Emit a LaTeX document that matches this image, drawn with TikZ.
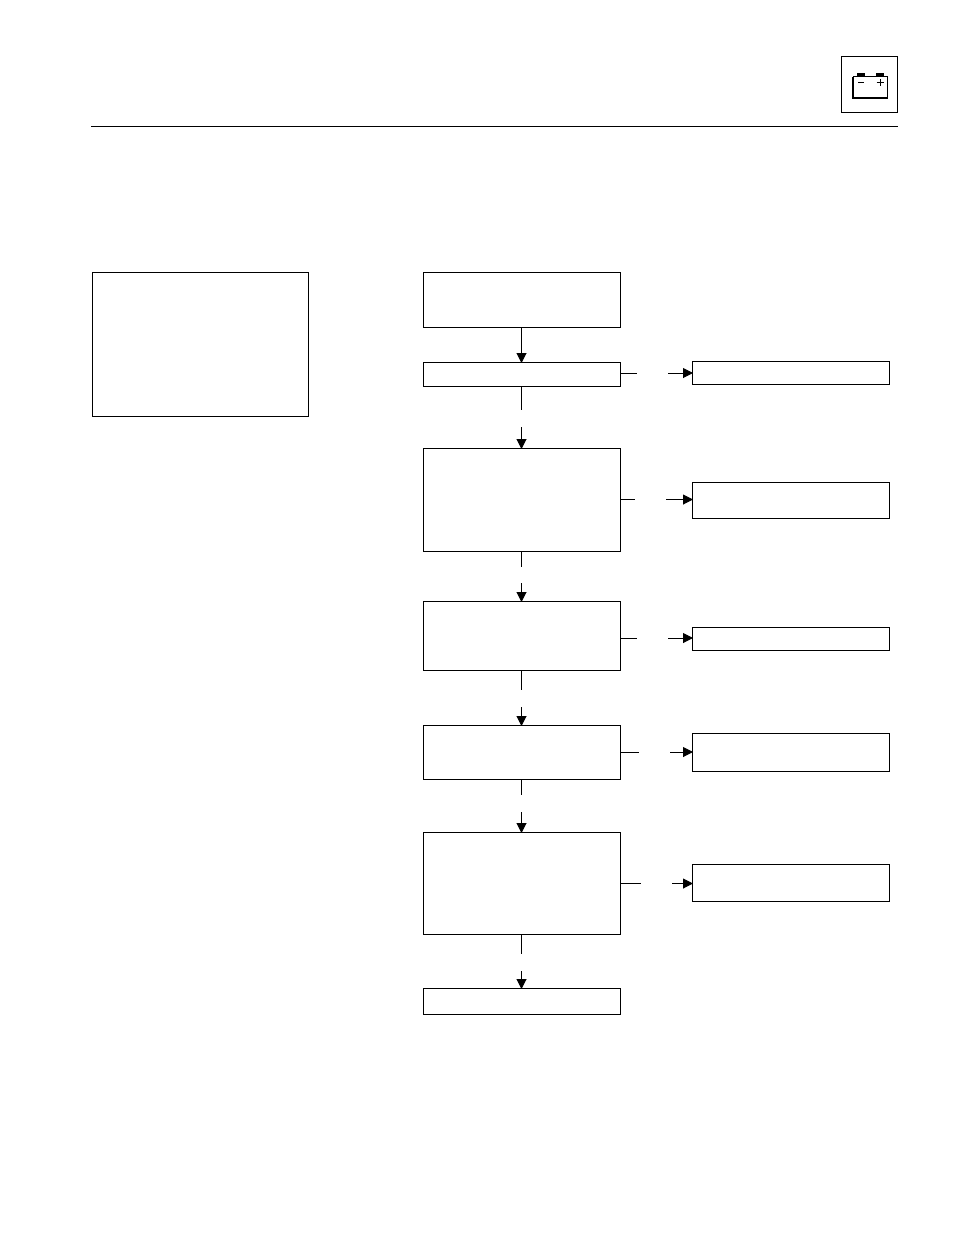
\documentclass[tikz,border=0pt]{standalone}
\usetikzlibrary{arrows.meta}
\tikzset{
  box/.style={draw=black,line width=1pt,fill=white,minimum width=0pt,minimum height=0pt,inner sep=0pt,outer sep=0pt},
  link/.style={draw=black,line width=1pt},
  tiplink/.style={link,-{Triangle[length=10pt,width=10pt]},shorten >=-0.5pt},
  batt/.style={draw=black,line width=0.8pt},
  battfill/.style={fill=black,draw=none}
}
\newcommand{\pbox}[5]{\node[box,anchor=north west,minimum width=#4pt,minimum height=#5pt] (#1) at (#2,#3) {};}
\begin{document}
\begin{tikzpicture}[x=1pt,y=-1pt]
\useasboundingbox (0,0) rectangle (954,1235);
\fill[white] (0,0) rectangle (954,1235);
% header
\coordinate (ruleL) at (91,126.5);
\coordinate (ruleR) at (898,126.5);
\draw[link] (ruleL) -- (ruleR);
\pbox{icon}{841.5}{56.5}{56}{56}
% battery
\coordinate (bTL) at (853,76.5);
\coordinate (bTR) at (887.5,76.5);
\coordinate (bBR) at (887.5,98);
\coordinate (bBL) at (853,98);
\draw[batt] (bTL) -- (bTR) -- (bBR);
\draw[black,line width=1.6pt] (bTL) -- (bBL) -- (bBR);
\fill[battfill] (857,72.5) rectangle (865,76.5);
\fill[battfill] (876,72.5) rectangle (884,76.5);
\draw[batt] (858,82.5) -- (864,82.5);
\draw[batt] (876.5,82.5) -- (883.5,82.5);
\draw[batt] (880,79) -- (880,86);
% left box
\pbox{note}{92.5}{272.5}{216}{144}
% main column
\pbox{a}{423.5}{272.5}{197}{55}
\pbox{b}{423.5}{362.5}{197}{24}
\pbox{c}{423.5}{448.5}{197}{103}
\pbox{d}{423.5}{601.5}{197}{69}
\pbox{e}{423.5}{725.5}{197}{54}
\pbox{f}{423.5}{832.5}{197}{102}
\pbox{g}{423.5}{988.5}{197}{26}
% right column
\pbox{rb}{692.5}{361.5}{197}{23}
\pbox{rc}{692.5}{482.5}{197}{36}
\pbox{rd}{692.5}{627.5}{197}{23}
\pbox{re}{692.5}{733.5}{197}{38}
\pbox{rf}{692.5}{864.5}{197}{37}
% vertical connectors
\coordinate (a1) at (521.5,340);
\draw[tiplink] (a1 |- a.south) -- (a1 |- b.north);
\coordinate (b1) at (521.5,410); \coordinate (b2) at (521.5,427);
\draw[link] (b1 |- b.south) -- (b1);
\draw[tiplink] (b2) -- (b2 |- c.north);
\coordinate (c1) at (521.5,567); \coordinate (c2) at (521.5,583);
\draw[link] (c1 |- c.south) -- (c1);
\draw[tiplink] (c2) -- (c2 |- d.north);
\coordinate (d1) at (521.5,690); \coordinate (d2) at (521.5,707);
\draw[link] (d1 |- d.south) -- (d1);
\draw[tiplink] (d2) -- (d2 |- e.north);
\coordinate (e1) at (521.5,795); \coordinate (e2) at (521.5,812);
\draw[link] (e1 |- e.south) -- (e1);
\draw[tiplink] (e2) -- (e2 |- f.north);
\coordinate (f1) at (521.5,954); \coordinate (f2) at (521.5,971);
\draw[link] (f1 |- f.south) -- (f1);
\draw[tiplink] (f2) -- (f2 |- g.north);
% horizontal connectors
\coordinate (h1a) at (637,373); \coordinate (h1b) at (668,373);
\draw[link] (b.east |- h1a) -- (h1a);
\draw[tiplink] (h1b) -- (rb.west |- h1b);
\coordinate (h2a) at (635,499.5); \coordinate (h2b) at (666,499.5);
\draw[link] (c.east |- h2a) -- (h2a);
\draw[tiplink] (h2b) -- (rc.west |- h2b);
\coordinate (h3a) at (637,638); \coordinate (h3b) at (668,638);
\draw[link] (d.east |- h3a) -- (h3a);
\draw[tiplink] (h3b) -- (rd.west |- h3b);
\coordinate (h4a) at (639,752); \coordinate (h4b) at (670,752);
\draw[link] (e.east |- h4a) -- (h4a);
\draw[tiplink] (h4b) -- (re.west |- h4b);
\coordinate (h5a) at (641,883.5); \coordinate (h5b) at (672,883.5);
\draw[link] (f.east |- h5a) -- (h5a);
\draw[tiplink] (h5b) -- (rf.west |- h5b);
\end{tikzpicture}
\end{document}
